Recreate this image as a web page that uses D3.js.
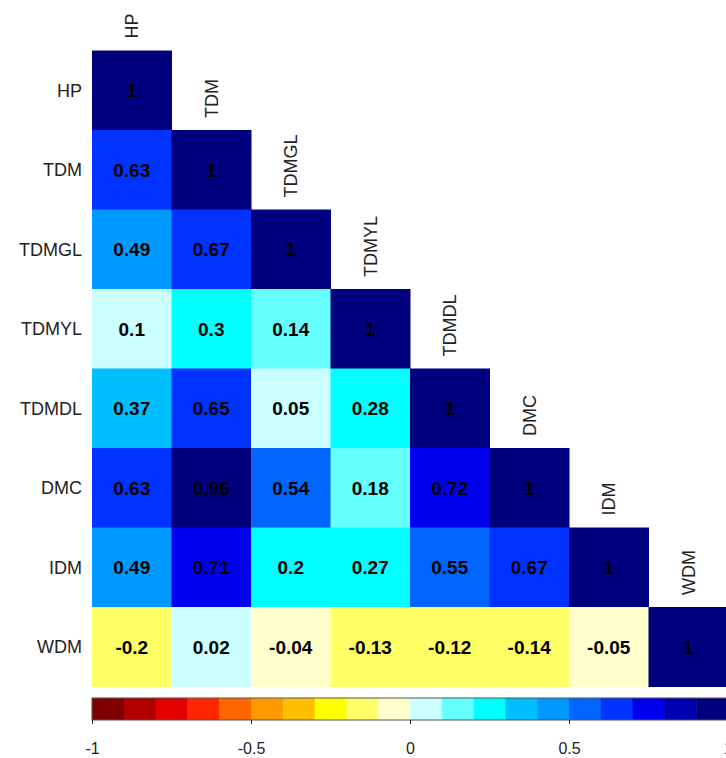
<!DOCTYPE html>
<html>
<head>
<meta charset="utf-8">
<script src="https://cdn.jsdelivr.net/npm/d3@7/dist/d3.min.js"></script>
<style>
  html, body { margin: 0; padding: 0; background: #fff; }
  svg { display: block; }
  text { font-family: Arial, "Liberation Sans", sans-serif; }
</style>
</head>
<body>
<svg id="chart" width="726" height="758"></svg>
<script>
//variable names (rows and columns)
var vars = ['HP', 'TDM', 'TDMGL', 'TDMYL', 'TDMDL', 'DMC', 'IDM', 'WDM'];

//lower triangle correlations, one array per row
var rowHP = [1];
var rowTDM = [0.63, 1];
var rowTDMGL = [0.49, 0.67, 1];
var rowTDMYL = [0.1, 0.3, 0.14, 1];
var rowTDMDL = [0.37, 0.65, 0.05, 0.28, 1];
var rowDMC = [0.63, 0.96, 0.54, 0.18, 0.72, 1];
var rowIDM = [0.49, 0.71, 0.204, 0.27, 0.55, 0.67, 1];
var rowWDM = [-0.196, 0.02, -0.04, -0.13, -0.12, -0.14, -0.05, 1];

//color bins from -1 to 1
var binColors = ['#7f0000', '#b20000', '#e50000', '#ff2600', '#ff6600', '#ff9900', '#ffbf00', '#ffff00', '#ffff66', '#ffffcc',
                 '#ccffff', '#66ffff', '#00ffff', '#00bfff', '#0099ff', '#0066ff', '#0033ff', '#0000ee', '#0000b2', '#00007f'];

//legend ticks
var legendTicks = [-1, -0.5, 0, 0.5, 1];

var rows = [rowHP, rowTDM, rowTDMGL, rowTDMYL, rowTDMDL, rowDMC, rowIDM, rowWDM];

var svg = d3.select('#chart');

//scales
var x = d3.scaleBand().domain(vars).range([92, 728]);
var y = d3.scaleBand().domain(vars).range([50.5, 686.5]);

//gets bin color for a value (right closed bins like corrplot)
function colorOf(v) {
    var idx = Math.ceil(+((v + 1) * binColors.length / 2).toFixed(6)) - 1;
    idx = Math.max(0, Math.min(binColors.length - 1, idx));
    return binColors[idx];
}

//build cell data
var cells = [];
rows.forEach(function (r, i) {
    r.forEach(function (v, j) {
        cells.push({ row: vars[i], col: vars[j], value: v });
    });
});

var cellG = svg.append('g');

//draw cells
cellG.selectAll('rect.cell')
    .data(cells)
    .enter().append('rect')
    .attr('class', 'cell')
    .attr('x', function (d) { return x(d.col); })
    .attr('y', function (d) { return y(d.row); })
    .attr('width', x.bandwidth() + 0.5)
    .attr('height', y.bandwidth() + 0.5)
    .attr('fill', function (d) { return colorOf(d.value); });

//draw values
cellG.selectAll('text.val')
    .data(cells)
    .enter().append('text')
    .attr('class', 'val')
    .attr('x', function (d) { return x(d.col) + x.bandwidth() / 2; })
    .attr('y', function (d) { return y(d.row) + y.bandwidth() / 2; })
    .attr('dy', '0.36em')
    .attr('text-anchor', 'middle')
    .attr('font-size', '19px')
    .attr('font-weight', 'bold')
    .attr('fill', '#000')
    .text(function (d) { return String(+d.value.toFixed(2)); });

//row labels
svg.append('g').selectAll('text')
    .data(vars)
    .enter().append('text')
    .attr('x', 82)
    .attr('y', function (d) { return y(d) + y.bandwidth() / 2; })
    .attr('dy', '0.36em')
    .attr('text-anchor', 'end')
    .attr('font-size', '18px')
    .attr('fill', '#222')
    .text(function (d) { return d; });

//column labels, rotated above the diagonal
svg.append('g').selectAll('text')
    .data(vars)
    .enter().append('text')
    .attr('transform', function (d) {
        return 'translate(' + (x(d) + x.bandwidth() / 2) + ',' + (y(d) - 12) + ') rotate(-90)';
    })
    .attr('dy', '0.36em')
    .attr('text-anchor', 'start')
    .attr('font-size', '18px')
    .attr('fill', '#222')
    .text(function (d) { return d; });

//color legend
var lx = d3.scaleLinear().domain([-1, 1]).range([92, 728]);
var binStep = 2 / binColors.length;
var legendG = svg.append('g');

legendG.selectAll('rect.bin')
    .data(binColors)
    .enter().append('rect')
    .attr('class', 'bin')
    .attr('x', function (d, i) { return lx(-1 + i * binStep); })
    .attr('y', 698)
    .attr('width', lx(-1 + binStep) - lx(-1) + 0.5)
    .attr('height', 22)
    .attr('fill', function (d) { return d; });

legendG.append('rect')
    .attr('x', lx(-1))
    .attr('y', 698)
    .attr('width', lx(1) - lx(-1))
    .attr('height', 22)
    .attr('fill', 'none')
    .attr('stroke', '#555')
    .attr('stroke-width', 1);

var axis = d3.axisBottom(lx)
    .tickValues(legendTicks)
    .tickSize(4)
    .tickPadding(19)
    .tickFormat(function (d) { return String(d); });

var axisG = legendG.append('g')
    .attr('transform', 'translate(0,720)')
    .call(axis);

axisG.select('.domain').remove();
axisG.selectAll('.tick line').attr('stroke', '#222');
axisG.selectAll('.tick text')
    .attr('font-size', '16px')
    .attr('font-family', 'Arial, "Liberation Sans", sans-serif')
    .attr('fill', '#222');
</script>
</body>
</html>
